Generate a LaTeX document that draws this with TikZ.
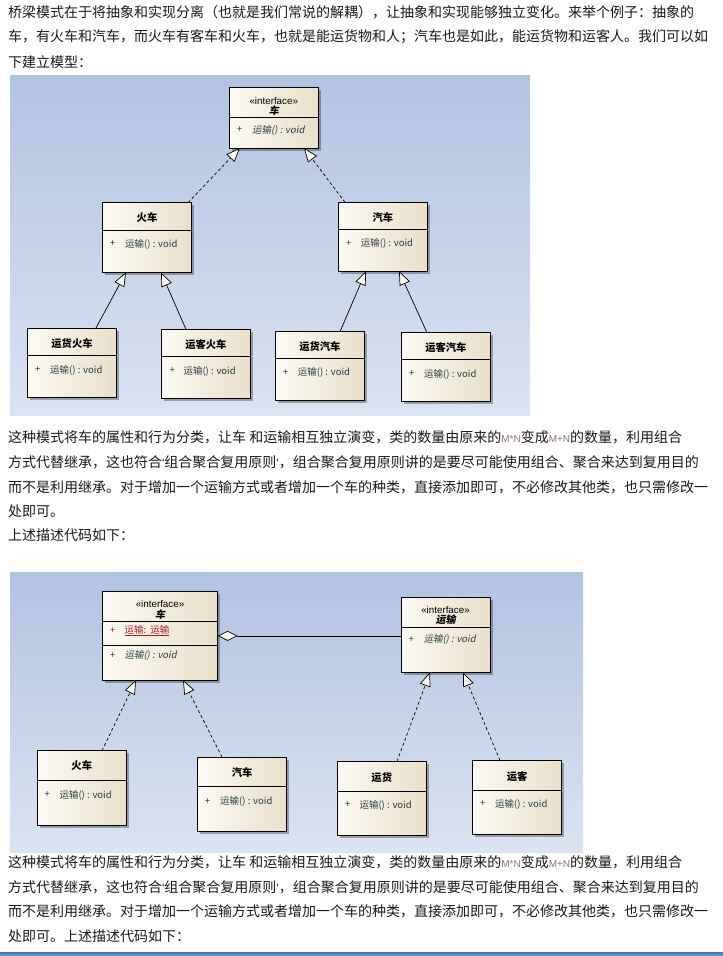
\documentclass[tikz,border=0pt]{standalone}
\usepackage{fontspec}
\setmainfont{Noto Sans CJK SC}
\newfontfamily\slantfont{Noto Sans CJK SC}[FakeSlant=0.2]
\newfontfamily\latfont{Liberation Sans}
\usetikzlibrary{arrows.meta,shadows,calc}

\definecolor{bgtop}{RGB}{178,194,225}
\definecolor{bgbot}{RGB}{220,227,242}
\definecolor{boxl}{RGB}{252,250,244}
\definecolor{boxr}{RGB}{233,223,202}
\definecolor{methc}{RGB}{40,62,62}
\definecolor{attrc}{RGB}{165,30,30}
\definecolor{mnc}{RGB}{150,105,150}
\definecolor{txt}{RGB}{25,25,25}
\definecolor{tipfill}{RGB}{255,254,244}
\definecolor{bartop}{RGB}{70,115,180}
\definecolor{barbot}{RGB}{125,165,212}
\definecolor{paleband}{RGB}{254,254,247}

\tikzset{
  cls/.style={draw=black, line width=0.8pt, left color=boxl, right color=boxr,
    outer sep=0pt, inner sep=0pt,
    drop shadow={shadow xshift=2.5pt, shadow yshift=-2.5pt, fill=black, opacity=0.3}},
  sepline/.style={line width=0.8pt},
  ttl/.style={font=\fontsize{10.3pt}{10pt}\selectfont\bfseries, inner sep=0pt},
  stereo/.style={font=\latfont\fontsize{9.8pt}{10pt}\selectfont, inner sep=0pt},
  ifname/.style={font=\slantfont\fontsize{10pt}{10pt}\selectfont\bfseries, inner sep=0pt},
  plus/.style={font=\fontsize{9.5pt}{10pt}\selectfont, text=methc, anchor=west, inner sep=0pt},
  meth/.style={font=\fontsize{9.5pt}{10pt}\selectfont, text=methc, anchor=west, inner sep=0pt},
  imeth/.style={font=\slantfont\fontsize{9.5pt}{10pt}\selectfont, text=methc, anchor=west, inner sep=0pt},
  attr/.style={font=\fontsize{9.5pt}{10pt}\selectfont, text=attrc, anchor=west, inner sep=0pt},
  para/.style={font=\fontsize{14pt}{14pt}\selectfont, text=txt, anchor=west, inner sep=0pt},
  gen/.style={-{Triangle[length=14pt,width=11pt,fill=tipfill]}, line width=0.7pt},
  real/.style={gen, dash pattern=on 3pt off 2.5pt},
  agg/.style={{Diamond[length=20pt,width=10pt,fill=tipfill]}-, line width=0.7pt}
}

% class box: name, left, top, right, bottom, y of the first compartment line
\newcommand{\umlcls}[6]{%
  \node[cls, minimum width={#4-#2}, minimum height={#5-#3}] (#1) at ({(#2+#4)/2},{(#3+#5)/2}) {};
  \draw[sepline] (#1.west |- 0,#6) -- (#1.east |- 0,#6);
}
% operation row: name, style, x of "+", x of text, y, text
\newcommand{\umlop}[6]{%
  \node[plus] (#1-p) at (#3,#5) {+};
  \node[#2] (#1-m) at (#4,#5) {#6};
}
\newcommand{\mn}[1]{{\latfont\fontsize{10pt}{10pt}\selectfont\color{mnc}#1}}
\newcommand{\sq}{{\latfont\fontsize{12pt}{12pt}\selectfont'}}

\begin{document}
\begin{tikzpicture}[x=1pt,y=-1pt]
\useasboundingbox (0,0) rectangle (723,956);
\fill[white] (0,0) rectangle (723,956);

% opening paragraph
\node[para] (pa1) at (8,12) {桥梁模式在于将抽象和实现分离（也就是我们常说的解耦），让抽象和实现能够独立变化。来举个例子：抽象的};
\node[para] (pa2) at (8,37) {车，有火车和汽车，而火车有客车和火车，也就是能运货物和人；汽车也是如此，能运货物和运客人。我们可以如};
\node[para] (pa3) at (8,62) {下建立模型：};

% ---------- inheritance model ----------
\shade[top color=bgtop,bottom color=bgbot] (10,75) rectangle (530,415);

\umlcls{cheA}{229}{87}{318.5}{148}{117.5}
\node[stereo] (cheA-s) at (273.75,100.5) {«interface»};
\node[ifname] (cheA-n) at (273.75,111) {车};
\umlop{cheA}{imeth}{237}{252}{130}{运输() : void}

\umlcls{huoA}{102.3}{202.7}{191.7}{272.3}{230}
\node[ttl] (huoA-n) at (147,217.5) {火车};
\umlop{huoA}{meth}{110}{125}{244}{运输() : void}

\umlcls{qiA}{338.3}{202.3}{427.3}{271}{229}
\node[ttl] (qiA-n) at (382.8,217.5) {汽车};
\umlop{qiA}{meth}{346}{360.7}{243.7}{运输() : void}

\umlcls{yhhA}{27.3}{328}{116.7}{397}{355}
\node[ttl] (yhhA-n) at (72,343.5) {运货火车};
\umlop{yhhA}{meth}{35}{50}{370}{运输() : void}

\umlcls{ykhA}{161.7}{329.3}{250}{398.3}{356.7}
\node[ttl] (ykhA-n) at (205.85,344.5) {运客火车};
\umlop{ykhA}{meth}{169.3}{183.3}{371}{运输() : void}

\umlcls{yhqA}{275.7}{331.7}{364}{400}{358.3}
\node[ttl] (yhqA-n) at (319.85,346.5) {运货汽车};
\umlop{yhqA}{meth}{282.7}{297.7}{372.7}{运输() : void}

\umlcls{ykqA}{401.7}{332.7}{490}{401}{359.3}
\node[ttl] (ykqA-n) at (445.85,347.3) {运客汽车};
\umlop{ykqA}{meth}{409}{424}{374}{运输() : void}

\draw[real] ($(huoA.north west)+(85.7,0)$) -- ($(cheA.south west)+(11,0)$);
\draw[real] ($(qiA.north west)+(6.7,0)$) -- ($(cheA.south west)+(75,0)$);
\draw[gen] ($(yhhA.north west)+(68.7,0)$) -- ($(huoA.south west)+(23.7,0)$);
\draw[gen] ($(ykhA.north west)+(24.3,0)$) -- ($(huoA.south west)+(58.7,0)$);
\draw[gen] ($(yhqA.north west)+(64.3,0)$) -- ($(qiA.south west)+(27.7,0)$);
\draw[gen] ($(ykqA.north west)+(25.3,0)$) -- ($(qiA.south west)+(60.7,0)$);

% middle paragraph
\node[para] (pb1) at (8,437) {这种模式将车的属性和行为分类，让车 和运输相互独立演变，类的数量由原来的\mn{M*N}变成\mn{M+N}的数量，利用组合};
\node[para] (pb2) at (8,462) {方式代替继承，这也符合\sq 组合聚合复用原则\sq，组合聚合复用原则讲的是要尽可能使用组合、聚合来达到复用目的};
\node[para] (pb3) at (8,487) {而不是利用继承。对于增加一个运输方式或者增加一个车的种类，直接添加即可，不必修改其他类，也只需修改一};
\node[para] (pb4) at (8,511) {处即可。};
\node[para] (pb5) at (8,535) {上述描述代码如下：};

% ---------- bridge model ----------
\fill[paleband] (10,559) rectangle (583,567);
\shade[top color=bgtop,bottom color=bgbot] (10,572) rectangle (583,852);

\umlcls{cheB}{102.3}{591.7}{217.7}{680}{621.7}
\draw[sepline] (cheB.west |- 0,645.7) -- (cheB.east |- 0,645.7);
\node[stereo] (cheB-s) at (160,604) {«interface»};
\node[ifname] (cheB-n) at (160,614.3) {车};
\node[plus, text=attrc] (cheB-ap) at (110,630.7) {+};
\node[attr] (cheB-a) at (124.3,630.7) {\underline{运输:\ \ 运输}};
\umlop{cheB}{imeth}{110}{124.3}{655.7}{运输() : void}

\umlcls{ysB}{401}{597.3}{490}{672.3}{627.7}
\node[stereo] (ysB-s) at (445.5,610) {«interface»};
\node[ifname] (ysB-n) at (445.5,620) {运输};
\umlop{ysB}{imeth}{408.3}{423.3}{639.3}{运输() : void}

\umlcls{huoB}{37.1}{750.7}{126.4}{825}{780}
\node[ttl] (huoB-n) at (81.75,766) {火车};
\umlop{huoB}{meth}{44.3}{59.3}{795}{运输() : void}

\umlcls{qiB}{197.5}{757.1}{286.8}{831.4}{786.4}
\node[ttl] (qiB-n) at (242.15,773) {汽车};
\umlop{qiB}{meth}{204.6}{220}{801.5}{运输() : void}

\umlcls{yhB}{337.1}{761.4}{426.4}{835.7}{791.1}
\node[ttl] (yhB-n) at (381.75,777.5) {运货};
\umlop{yhB}{meth}{345}{359.3}{805}{运输() : void}

\umlcls{ykB}{472.5}{760.4}{561.8}{834.6}{790}
\node[ttl] (ykB-n) at (517.15,776.5) {运客};
\umlop{ykB}{meth}{480}{495}{804}{运输() : void}

\draw[agg] (cheB.east) -- (cheB.east -| ysB.west);
\draw[real] ($(huoB.north west)+(64.9,0)$) -- ($(cheB.south west)+(33.7,0)$);
\draw[real] ($(qiB.north west)+(24.5,0)$) -- ($(cheB.south west)+(80.7,0)$);
\draw[real] ($(yhB.north west)+(59.9,0)$) -- ($(ysB.south west)+(29,0)$);
\draw[real] ($(ykB.north west)+(27.5,0)$) -- ($(ysB.south west)+(62,0)$);

% closing paragraph
\node[para] (pc1) at (8,862) {这种模式将车的属性和行为分类，让车 和运输相互独立演变，类的数量由原来的\mn{M*N}变成\mn{M+N}的数量，利用组合};
\node[para] (pc2) at (8,887) {方式代替继承，这也符合\sq 组合聚合复用原则\sq，组合聚合复用原则讲的是要尽可能使用组合、聚合来达到复用目的};
\node[para] (pc3) at (8,911) {而不是利用继承。对于增加一个运输方式或者增加一个车的种类，直接添加即可，不必修改其他类，也只需修改一};
\node[para] (pc4) at (8,936) {处即可。上述描述代码如下：};

\shade[top color=bartop,bottom color=barbot] (0,952) rectangle (723,956);
\end{tikzpicture}
\end{document}
